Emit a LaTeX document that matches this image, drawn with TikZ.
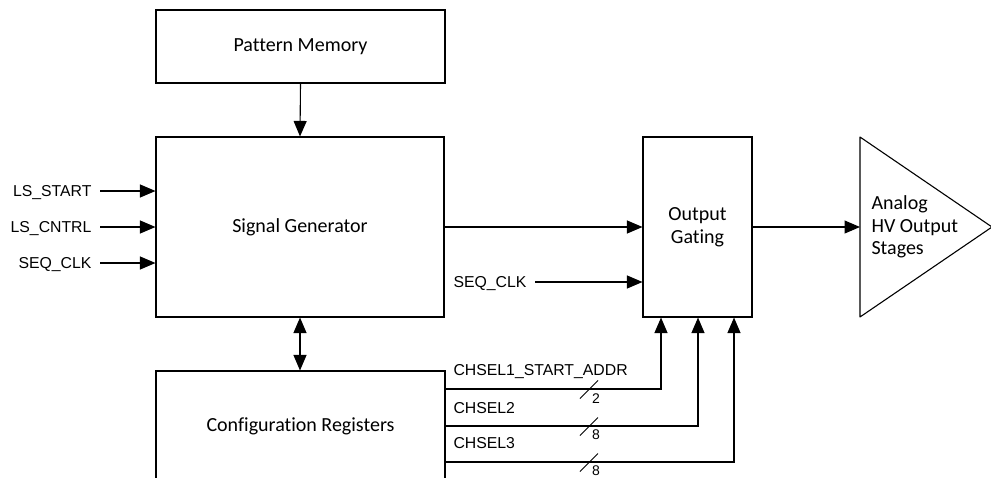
\documentclass[tikz,border=0pt]{standalone}
\usepackage{fontspec}
\setmainfont{Carlito}[Ligatures={NoCommon}]
\newfontfamily\arialf{Liberation Sans}
\usetikzlibrary{arrows.meta}
\begin{document}
\begin{tikzpicture}[x=1pt,y=-1pt,
  line width=1.1pt,
  box/.style={draw, line width=1.1pt, inner sep=0pt, font=\fontsize{20}{23}\selectfont, align=center},
  sig/.style={font=\arialf\fontsize{15.8}{18}\selectfont, inner ysep=0pt, inner xsep=8pt, text height=11.3pt, text depth=0pt},
  lbl/.style={font=\arialf\fontsize{15.8}{18}\selectfont, inner sep=0pt, anchor=west},
  num/.style={font=\arialf\fontsize{14}{16}\selectfont, inner sep=0pt},
  arr/.style={-{Triangle[length=15.5pt,width=13pt]}},
  darr/.style={{Triangle[length=15.5pt,width=13pt]}-{Triangle[length=15.5pt,width=13pt]}},
  tick/.style={line width=0.9pt}]
\useasboundingbox (0,0) rectangle (991,477);
\clip (0,0) rectangle (991,477);

% blocks
\node[box, minimum width=289pt, minimum height=73pt] (pm) at (300.5,46.5) {Pattern Memory};
\node[box, minimum width=288pt, minimum height=180pt] (sg) at (300,227) {Signal Generator};
\node[box, minimum width=289pt, minimum height=110pt] (cr) at (300.5,426) {Configuration Registers};
\node[box, minimum width=109pt, minimum height=180pt] (og) at (697.5,227) {Output\\Gating};

% amplifier triangle
\coordinate (ampin) at (860,227);
\coordinate (amptop) at (860,137);
\coordinate (ampbot) at (860,317);
\coordinate (ampapex) at (992,227);
\draw[line join=round] (amptop) -- (ampbot) -- (ampapex) -- cycle;
\node[font=\fontsize{20}{22.5}\selectfont, align=left, inner sep=0pt, anchor=west] (amp) at (871,227) {Analog\\HV Output\\Stages};

% connectors
\draw[arr] (pm.south) -- (sg.north);
\draw[darr] (sg.south) -- (sg.south |- cr.north);
\draw[arr] (sg.east) -- (og.west);
\draw[arr] (og.east) -- (ampin);

% left inputs
\node[sig, anchor=east] (lsstart) at (100,191) {LS\_START};
\node[sig, anchor=east] (lscntrl) at (100,227) {LS\_CNTRL};
\node[sig, anchor=east] (seqclk) at (100,263) {SEQ\_CLK};
\draw[arr] (lsstart.east) -- (sg.west |- lsstart.east);
\draw[arr] (lscntrl.east) -- (sg.west |- lscntrl.east);
\draw[arr] (seqclk.east) -- (sg.west |- seqclk.east);

% middle SEQ_CLK
\node[sig, anchor=east] (seqclkb) at (535,282) {SEQ\_CLK};
\draw[arr] (seqclkb.east) -- (og.west |- seqclkb.east);

% config buses
\coordinate (y1) at (0,389);
\coordinate (y2) at (0,426);
\coordinate (y3) at (0,462);
\coordinate (x1) at (661,0);
\coordinate (x2) at (698,0);
\coordinate (x3) at (734,0);
\draw[arr] (cr.east |- y1) -| (og.south -| x1);
\draw[arr] (cr.east |- y2) -| (og.south -| x2);
\draw[arr] (cr.east |- y3) -| (og.south -| x3);

\node[lbl] (l1) at (453,372) {CHSEL1\_START\_ADDR};
\node[lbl] (l2) at (453,408) {CHSEL2};
\node[lbl] (l3) at (453,443) {CHSEL3};

\draw[tick] (580,398.5) -- (598,380.5);
\draw[tick] (580,435.5) -- (598,417.5);
\draw[tick] (580,471.5) -- (598,453.5);
\node[num] (n1) at (596,398.5) {2};
\node[num] (n2) at (596,435) {8};
\node[num] (n3) at (596,471) {8};
\end{tikzpicture}
\end{document}
